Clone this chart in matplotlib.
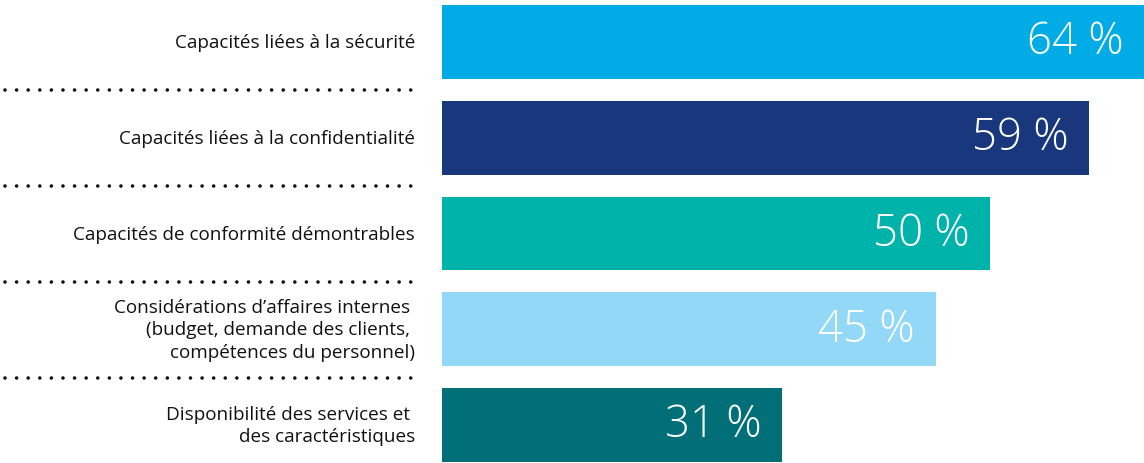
import matplotlib.pyplot as plt
import matplotlib.transforms as mtransforms

categories = [
    "Capacités liées à la sécurité",
    "Capacités liées à la confidentialité",
    "Capacités de conformité démontrables",
    "Considérations d’affaires internes \n(budget, demande des clients, \ncompétences du personnel)",
    "Disponibilité des services et \ndes caractéristiques",
]
values = [64, 59, 50, 45, 31]
value_labels = ["64 %", "59 %", "50 %", "45 %", "31 %"]
colors = ["#00ABE6", "#18377C", "#00B3AA", "#93D8F6", "#006F78"]

plt.rcParams['font.family'] = ['Open Sans', 'DejaVu Sans']

W, H = 1144, 464
fig = plt.figure(figsize=(W / 100, H / 100), dpi=100)
ax = fig.add_axes([442 / W, 0, 1 - 442 / W, 1])

ypos = list(range(len(values)))
ax.barh(ypos, values, height=0.77, color=colors)
ax.set_xlim(0, 64)
ax.set_ylim(4.396, -0.45)
ax.axis('off')

for y, v, lab in zip(ypos, values, value_labels):
    ax.text(v - 1.9, y, lab, ha='right', va='center', color='white',
            fontsize=31.5, fontweight='light')

trans = mtransforms.blended_transform_factory(ax.transAxes, ax.transData)
for y, cat in zip(ypos, categories):
    ax.text(-0.0385, y, cat, ha='right', va='center', multialignment='right',
            fontsize=13.6, color='#111111', transform=trans, linespacing=1.3)

# dotted separators
for y in ypos[:-1]:
    ax.plot([-0.6225, -0.0385], [y + 0.505, y + 0.505], transform=trans,
            clip_on=False, color='#111111', linewidth=2.6,
            linestyle=(0, (0.01, 3.2)), dash_capstyle='round')

fig.savefig('out.png', dpi=100)
